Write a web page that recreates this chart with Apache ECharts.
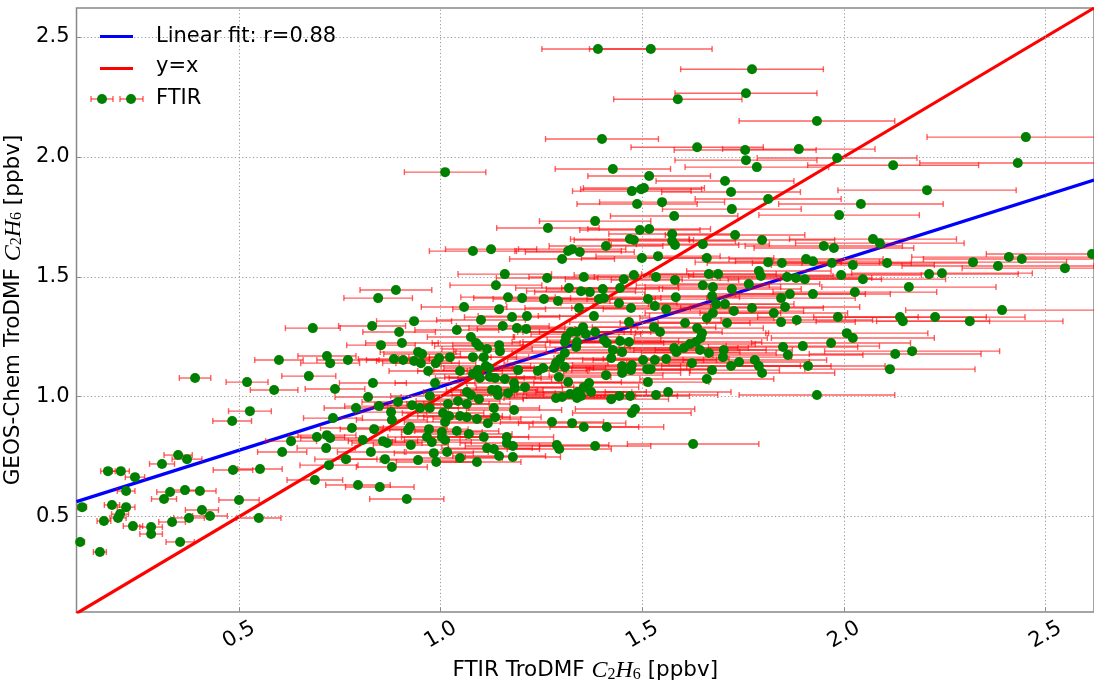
<!DOCTYPE html>
<html><head><meta charset="utf-8">
<script src="https://cdn.jsdelivr.net/npm/echarts@6/dist/echarts.min.js"></script>
<style>html,body{margin:0;padding:0;background:#fff}#c{width:1094px;height:682px}</style>
</head><body><div id="c"></div>
<script>
const xTicks = [0.5, 1.0, 1.5, 2.0, 2.5];
const yTicks = [0.5, 1.0, 1.5, 2.0, 2.5];
const xRange = [0.097, 2.62];
const yRange = [0.103, 2.62];
const fitLine = [[0.097, 0.563], [2.62, 1.903]];
const identityLine = [[0.097, 0.097], [2.62, 2.62]];
const legendNames = ['Linear fit: r=0.88', 'y=x', 'FTIR'];
// [FTIR x, GEOS-Chem y, FTIR x error]
const ftirPoints = [
[0.889,1.445,0.089],[0.845,1.411,0.085],[0.683,1.286,0.068],[0.830,1.295,0.083],[0.897,1.270,0.090],
[0.852,1.215,0.085],[0.904,1.224,0.090],[0.718,1.170,0.072],[0.726,1.140,0.073],[0.599,1.153,0.060],
[0.770,1.153,0.077],[0.884,1.157,0.088],[0.907,1.153,0.091],[0.391,1.078,0.039],[0.673,1.086,0.067],
[0.520,1.061,0.052],[0.832,1.057,0.083],[0.587,1.028,0.059],[0.738,1.032,0.074],[0.820,0.999,0.082],
[0.527,0.940,0.053],[0.483,0.899,0.048],[0.790,0.953,0.079],[0.847,0.961,0.085],[0.877,0.936,0.088],
[0.894,0.978,0.089],[0.879,0.903,0.088],[0.733,0.911,0.073],[0.780,0.870,0.078],[0.835,0.865,0.084],
[0.629,0.815,0.063],[0.693,0.832,0.069],[0.718,0.840,0.072],[0.726,0.828,0.073],[0.807,0.820,0.081],
[0.857,0.815,0.086],[0.867,0.807,0.087],[0.607,0.770,0.061],[0.716,0.786,0.072],[0.827,0.770,0.083],
[0.349,0.757,0.035],[0.371,0.740,0.037],[0.309,0.720,0.031],[0.485,0.695,0.049],[0.552,0.699,0.055],
[0.765,0.740,0.077],[0.862,0.740,0.086],[0.723,0.715,0.072],[0.879,0.707,0.088],[0.175,0.690,0.018],
[0.207,0.690,0.021],[0.242,0.665,0.024],[0.688,0.653,0.069],[0.220,0.607,0.022],[0.329,0.603,0.033],
[0.366,0.611,0.037],[0.403,0.607,0.040],[0.795,0.632,0.080],[0.849,0.624,0.085],[0.314,0.574,0.031],
[0.500,0.570,0.050],[0.111,0.540,0.011],[0.185,0.549,0.019],[0.220,0.540,0.022],[0.408,0.528,0.041],
[0.205,0.511,0.021],[0.200,0.495,0.020],[0.165,0.482,0.017],[0.376,0.495,0.038],[0.428,0.503,0.043],
[0.549,0.495,0.055],[0.334,0.478,0.033],[0.237,0.461,0.024],[0.282,0.457,0.028],[0.282,0.428,0.028],
[0.106,0.395,0.011],[0.354,0.395,0.035],[0.155,0.353,0.016],[0.929,0.965,0.093],[0.924,0.874,0.092],
[0.926,0.799,0.093],[0.944,0.736,0.094],[0.916,0.574,0.092],
[1.636,2.040,0.164],[1.011,1.936,0.101],[1.427,1.949,0.143],[1.517,1.920,0.152],[1.474,1.857,0.147],
[1.497,1.865,0.150],[1.504,1.870,0.150],[1.487,1.803,0.149],[1.549,1.811,0.155],[1.579,1.753,0.158],
[1.383,1.732,0.138],[1.266,1.703,0.127],[1.494,1.695,0.149],[1.517,1.699,0.152],[1.574,1.678,0.157],
[1.469,1.657,0.147],[1.479,1.653,0.148],[1.574,1.649,0.157],[1.581,1.632,0.158],[1.410,1.628,0.141],
[1.080,1.607,0.108],[1.125,1.615,0.113],[1.316,1.607,0.132],[1.326,1.615,0.133],[1.345,1.603,0.135],
[1.301,1.574,0.130],[1.499,1.578,0.150],[1.539,1.586,0.154],[1.159,1.511,0.116],[1.264,1.495,0.126],
[1.355,1.499,0.136],[1.454,1.490,0.145],[1.479,1.507,0.148],[1.534,1.499,0.153],[1.581,1.486,0.158],
[1.137,1.465,0.114],[1.318,1.453,0.132],[1.348,1.440,0.135],[1.370,1.436,0.137],[1.402,1.449,0.140],
[1.445,1.453,0.145],[1.167,1.415,0.117],[1.202,1.411,0.120],[1.256,1.407,0.126],[1.291,1.399,0.129],
[1.393,1.407,0.139],[1.405,1.411,0.141],[1.514,1.407,0.151],[1.583,1.415,0.158],[1.058,1.374,0.106],
[1.145,1.365,0.115],[1.343,1.370,0.134],[1.442,1.390,0.144],[1.472,1.370,0.147],[1.531,1.378,0.153],
[1.559,1.365,0.156],
[1.390,2.449,0.139],[1.521,2.449,0.152],[1.772,2.365,0.177],[1.757,2.265,0.176],[1.588,2.240,0.159],
[1.933,2.149,0.193],[1.400,2.074,0.140],[2.451,2.082,0.245],
[1.755,2.028,0.176],[1.888,2.032,0.189],[1.757,1.986,0.176],[1.983,1.995,0.198],[1.784,1.957,0.178],
[2.122,1.965,0.212],[2.431,1.974,0.243],[1.705,1.899,0.171],[1.720,1.853,0.172],[2.206,1.861,0.221],
[1.812,1.824,0.181],[2.042,1.803,0.204],[1.722,1.782,0.172],[1.988,1.757,0.199],[1.730,1.674,0.173],
[1.797,1.653,0.180],[1.650,1.636,0.165],[2.072,1.657,0.207],[2.089,1.640,0.209],[1.950,1.628,0.195],
[1.975,1.620,0.198],[1.660,1.578,0.166],[1.812,1.561,0.181],[1.846,1.557,0.185],[1.906,1.574,0.191],
[1.923,1.565,0.192],[1.970,1.557,0.197],[2.022,1.549,0.202],[2.107,1.557,0.211],[2.320,1.561,0.232],
[2.382,1.545,0.238],[2.409,1.582,0.241],[2.441,1.574,0.244],[2.615,1.595,0.262],[2.548,1.536,0.255],
[1.665,1.511,0.167],[1.688,1.511,0.169],[1.789,1.524,0.179],[1.794,1.503,0.179],[1.993,1.507,0.199],
[2.047,1.490,0.205],[2.211,1.511,0.221],[2.243,1.515,0.224],[1.859,1.499,0.186],[1.881,1.495,0.188],
[1.903,1.490,0.190],[1.650,1.465,0.165],[1.675,1.457,0.168],[1.722,1.449,0.172],[1.764,1.470,0.176],
[2.161,1.457,0.216],[2.027,1.436,0.203],[1.923,1.428,0.192],[1.866,1.428,0.187],[1.673,1.420,0.167],
[1.844,1.411,0.184],[1.854,1.374,0.185],[1.705,1.386,0.171],[1.683,1.386,0.168],[1.772,1.370,0.177],
[1.826,1.349,0.183],[1.727,1.357,0.173],[1.675,1.349,0.168],[1.660,1.328,0.166],[2.392,1.361,0.239],
[1.985,1.332,0.199],[2.139,1.332,0.214],[2.146,1.315,0.215],[2.226,1.332,0.223],[2.312,1.315,0.231],
[1.710,1.307,0.171],[1.844,1.311,0.184],[1.883,1.320,0.188],[2.007,1.265,0.201],[2.022,1.245,0.202],
[1.968,1.224,0.197],[1.898,1.211,0.190],[1.849,1.207,0.185],[1.643,1.195,0.164],[1.665,1.182,0.167],
[1.702,1.195,0.170],[1.700,1.165,0.170],[1.861,1.174,0.186],[2.127,1.178,0.213],[2.169,1.190,0.217],
[1.740,1.145,0.174],[1.779,1.153,0.178],[1.789,1.128,0.179],[1.720,1.128,0.172],[1.911,1.128,0.191],
[2.114,1.115,0.211],[1.673,1.111,0.167],[1.797,1.099,0.180],[1.660,1.074,0.166],[1.933,1.007,0.193],
[0.934,1.315,0.093],[1.100,1.320,0.110],[1.177,1.332,0.118],[1.214,1.336,0.121],[1.154,1.295,0.115],
[1.189,1.286,0.119],[1.212,1.282,0.121],[1.040,1.278,0.104],[1.075,1.249,0.108],[1.088,1.224,0.109],
[1.095,1.211,0.110],[1.115,1.199,0.112],[1.145,1.215,0.115],[1.147,1.190,0.115],[1.311,1.249,0.131],
[1.338,1.228,0.134],[1.308,1.228,0.131],[0.944,1.186,0.094],[0.954,1.178,0.095],[0.934,1.149,0.093],
[0.951,1.140,0.095],[0.996,1.161,0.100],[1.023,1.165,0.102],[0.988,1.140,0.099],[1.080,1.165,0.108],
[1.107,1.165,0.111],[1.112,1.128,0.111],[0.969,1.107,0.097],[1.048,1.107,0.105],[1.092,1.111,0.109],
[1.120,1.120,0.112],[1.192,1.111,0.119],[1.241,1.107,0.124],[1.254,1.120,0.125],[1.281,1.120,0.128],
[1.286,1.140,0.129],[1.296,1.157,0.130],[1.308,1.182,0.131],[1.308,1.124,0.131],[0.986,1.057,0.099],
[1.080,1.095,0.108],[1.097,1.078,0.110],[1.122,1.082,0.112],[1.135,1.078,0.114],[1.159,1.074,0.116],
[1.182,1.057,0.118],[1.184,1.036,0.118],[1.209,1.040,0.121],[1.140,1.028,0.114],[1.127,1.028,0.113],
[1.142,1.007,0.114],[1.167,1.015,0.117],[1.095,0.990,0.110],[1.075,1.007,0.108],[1.065,1.020,0.107],
[1.293,1.082,0.129],[1.316,1.061,0.132],[1.340,1.020,0.134],[1.321,1.011,0.132],[1.301,0.999,0.130],
[1.286,0.995,0.129],[0.973,1.003,0.097],[1.018,0.970,0.102],[1.043,0.982,0.104],[1.065,0.970,0.107],
[0.949,0.953,0.095],[0.973,0.953,0.097],[1.006,0.932,0.101],[1.021,0.920,0.102],[1.065,0.915,0.107],
[1.048,0.920,0.105],[1.132,0.953,0.113],[1.182,0.945,0.118],[1.135,0.915,0.114],[1.090,0.907,0.109],
[1.117,0.890,0.112],[1.011,0.895,0.101],[0.971,0.865,0.097],[1.040,0.857,0.104],[1.070,0.845,0.107],
[1.107,0.832,0.111],[1.164,0.832,0.116],[1.276,0.895,0.128],[1.326,0.890,0.133],[0.966,0.832,0.097],
[1.380,1.336,0.138],[1.467,1.311,0.147],[1.606,1.307,0.161],[1.353,1.290,0.135],[1.338,1.270,0.134],
[1.360,1.261,0.136],[1.383,1.270,0.138],[1.323,1.270,0.132],[1.529,1.290,0.153],[1.544,1.270,0.154],
[1.636,1.286,0.164],[1.648,1.265,0.165],[1.645,1.245,0.165],[1.405,1.236,0.141],[1.412,1.224,0.141],
[1.445,1.232,0.145],[1.467,1.228,0.147],[1.336,1.207,0.134],[1.427,1.195,0.143],[1.450,1.186,0.145],
[1.579,1.203,0.158],[1.584,1.186,0.158],[1.603,1.203,0.160],[1.618,1.220,0.162],[1.633,1.228,0.163],
[1.423,1.161,0.142],[1.502,1.153,0.150],[1.531,1.153,0.153],[1.559,1.157,0.156],[1.623,1.140,0.162],
[1.450,1.128,0.145],[1.474,1.132,0.147],[1.472,1.111,0.147],[1.450,1.099,0.145],[1.410,1.090,0.141],
[1.512,1.115,0.151],[1.521,1.115,0.152],[1.514,1.061,0.151],[1.368,1.057,0.137],[1.355,1.040,0.136],
[1.373,1.020,0.137],[1.348,1.003,0.135],[1.338,0.995,0.134],[1.423,0.990,0.142],[1.443,1.003,0.144],
[1.470,1.003,0.147],[1.534,1.007,0.153],[1.564,1.020,0.156],[1.482,0.949,0.148],[1.474,0.932,0.147],
[1.355,0.874,0.136],[1.412,0.874,0.141],
[0.919,0.861,0.092],[1.003,0.853,0.100],[0.978,0.811,0.098],[1.003,0.832,0.100],[1.011,0.820,0.101],
[1.164,0.807,0.116],[1.179,0.795,0.118],[1.115,0.786,0.112],[1.132,0.782,0.113],[1.288,0.799,0.129],
[1.294,0.782,0.129],[1.383,0.795,0.138],[1.626,0.803,0.163],[0.983,0.765,0.098],[1.016,0.770,0.102],
[0.989,0.728,0.099],[1.048,0.745,0.105],[1.090,0.728,0.109],[1.145,0.753,0.115],[1.179,0.749,0.118]
];

const chart = echarts.init(document.getElementById('c'), null, {renderer: 'canvas'});
const barStyle = {stroke: 'rgba(255,0,0,0.62)', lineWidth: 1.4};
const gridLineStyle = {type: [1.2, 2.4], color: '#9a9a9a', width: 1};
const labelFont = {fontSize: 21, fontFamily: 'DejaVu Sans', color: '#000'};
const nameFont = {fontSize: 21.5, fontFamily: 'DejaVu Sans', color: '#000'};
const nameRich = {
  i: {fontFamily: 'Liberation Serif', fontStyle: 'italic', fontSize: 24, color: '#000'},
  s: {fontFamily: 'Liberation Serif', fontSize: 16, color: '#000', verticalAlign: 'bottom', lineHeight: 15}
};
const legendFont = '21px "DejaVu Sans"';

const option = {
  animation: false,
  backgroundColor: '#fff',
  grid: {left: 76.5, top: 8, right: 0, bottom: 70, containLabel: false, outerBoundsMode: 'none',
         show: true, borderColor: '#888', borderWidth: 1.5},
  xAxis: {
    type: 'value', min: xRange[0], max: xRange[1],
    axisLine: {show: false},
    axisTick: {show: true, inside: true, length: 5, lineStyle: {color: '#888'}, customValues: xTicks},
    axisLabel: Object.assign({customValues: xTicks, formatter: v => v.toFixed(1), rotate: 30,
      margin: 23, align: 'center', verticalAlign: 'middle'}, labelFont),
    splitLine: {show: false},
    name: 'FTIR TroDMF {i|C}{s|2}{i|H}{s|6} [ppbv]', nameLocation: 'middle', nameGap: 39,
    nameTextStyle: Object.assign({rich: nameRich}, nameFont)
  },
  yAxis: {
    type: 'value', min: yRange[0], max: yRange[1],
    axisLine: {show: false},
    axisTick: {show: true, inside: true, length: 5, lineStyle: {color: '#888'}, customValues: yTicks},
    axisLabel: Object.assign({customValues: yTicks, formatter: v => v.toFixed(1), margin: 7}, labelFont),
    splitLine: {show: false},
    name: 'GEOS-Chem TroDMF {i|C}{s|2}{i|H}{s|6} [ppbv]', nameLocation: 'middle', nameGap: 44,
    nameTextStyle: Object.assign({rich: nameRich}, nameFont)
  },
  series: [
    {type: 'line', data: [], z: 1, silent: true,
     markLine: {silent: true, symbol: 'none', label: {show: false}, lineStyle: gridLineStyle, animation: false,
       data: xTicks.map(v => ({xAxis: v})).concat(yTicks.map(v => ({yAxis: v})))}},
    {name: legendNames[0], type: 'line', data: fitLine, showSymbol: false, symbol: 'none',
     lineStyle: {color: '#0000ff', width: 3.2}, z: 3, clip: true},
    {name: legendNames[1], type: 'line', data: identityLine, showSymbol: false, symbol: 'none',
     lineStyle: {color: '#ff0000', width: 3.2}, z: 3, clip: true},
    {name: legendNames[2] + ' err', type: 'custom', data: ftirPoints, encode: {x: 0, y: 1}, clip: true, z: 4,
     renderItem: function (params, api) {
       const x = api.value(0), y = api.value(1), e = api.value(2);
       const p0 = api.coord([x - e, y]), p1 = api.coord([x + e, y]);
       const c = 3;
       return {type: 'group', children: [
         {type: 'line', shape: {x1: p0[0], y1: p0[1], x2: p1[0], y2: p1[1]}, style: barStyle},
         {type: 'line', shape: {x1: p0[0], y1: p0[1] - c, x2: p0[0], y2: p0[1] + c}, style: barStyle},
         {type: 'line', shape: {x1: p1[0], y1: p1[1] - c, x2: p1[0], y2: p1[1] + c}, style: barStyle}
       ]};
     }},
    {name: legendNames[2], type: 'scatter', data: ftirPoints.map(p => [p[0], p[1]]), symbolSize: 10,
     itemStyle: {color: '#008000', opacity: 1}, z: 5, clip: true}
  ],
  graphic: [
    {type: 'line', shape: {x1: 100, y1: 36.5, x2: 133, y2: 36.5}, style: {stroke: '#0000ff', lineWidth: 3.2}, z: 10},
    {type: 'text', x: 156, y: 37, style: {text: legendNames[0], font: legendFont, fill: '#000', verticalAlign: 'middle'}, z: 10},
    {type: 'line', shape: {x1: 100, y1: 68.5, x2: 133, y2: 68.5}, style: {stroke: '#ff0000', lineWidth: 3.2}, z: 10},
    {type: 'text', x: 156, y: 67, style: {text: legendNames[1], font: legendFont, fill: '#000', verticalAlign: 'middle'}, z: 10},
    {type: 'group', z: 10, children: [
      {type: 'line', shape: {x1: 91, y1: 99, x2: 113, y2: 99}, style: barStyle},
      {type: 'line', shape: {x1: 91, y1: 96, x2: 91, y2: 102}, style: barStyle},
      {type: 'line', shape: {x1: 113, y1: 96, x2: 113, y2: 102}, style: barStyle},
      {type: 'line', shape: {x1: 120, y1: 99, x2: 143, y2: 99}, style: barStyle},
      {type: 'line', shape: {x1: 120, y1: 96, x2: 120, y2: 102}, style: barStyle},
      {type: 'line', shape: {x1: 143, y1: 96, x2: 143, y2: 102}, style: barStyle},
      {type: 'circle', shape: {cx: 102, cy: 99, r: 5}, style: {fill: '#008000'}},
      {type: 'circle', shape: {cx: 131, cy: 99, r: 5}, style: {fill: '#008000'}}
    ]},
    {type: 'text', x: 156, y: 99, style: {text: legendNames[2], font: legendFont, fill: '#000', verticalAlign: 'middle'}, z: 10}
  ]
};
chart.setOption(option);
</script>
</body></html>
